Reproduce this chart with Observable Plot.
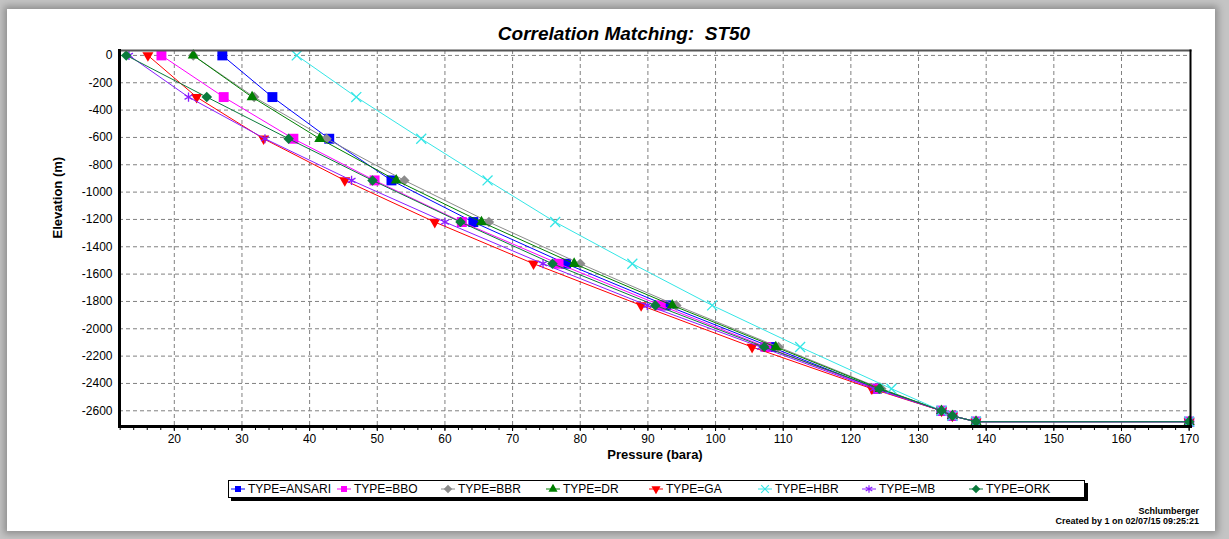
<!DOCTYPE html>
<html>
<head>
<meta charset="utf-8">
<script src="https://cdn.jsdelivr.net/npm/d3@7"></script>
<script src="https://cdn.jsdelivr.net/npm/@observablehq/plot@0.6"></script>
<style>
html,body{margin:0;padding:0;}
body{position:relative;width:1229px;height:539px;overflow:hidden;background:#c4c4c4;font-family:"Liberation Sans",Arial,sans-serif;}
#panel{position:absolute;left:7px;top:9px;width:1208px;height:522px;background:#fff;box-shadow:0 0 7px 3px rgba(0,0,0,0.28);}
#title{position:absolute;left:424px;width:400px;top:23px;line-height:22px;text-align:center;font-size:19px;font-weight:bold;font-style:italic;color:#000;white-space:pre;}
#chart{position:absolute;left:0;top:40px;}
#legend{position:absolute;left:228px;top:480px;width:855px;height:16px;border:1px solid #000;background:#fff;box-shadow:3px 3px 0 #000;}
.li{position:absolute;top:0;height:16px;line-height:16px;font-size:12px;color:#000;white-space:nowrap;}
.li svg{position:absolute;top:3px;}
#cap{position:absolute;right:30px;top:506px;text-align:right;font-size:9px;font-weight:bold;line-height:10px;color:#000;}
</style>
</head>
<body>
<div id="panel"></div>
<div id="title">Correlation Matching:  ST50</div>
<div id="chart"></div>
<div id="legend"></div>
<div id="cap">Schlumberger<br>Created by 1 on 02/07/15 09:25:21</div>
<script>
// ---- data ----
const seriesNames = ["ANSARI", "BBO", "BBR", "DR", "GA", "HBR", "MB", "ORK"];
const elevations = [0, -304.8, -609.6, -914.4, -1219.2, -1524, -1828.8, -2133.6, -2438.4, -2600, -2637, -2680, -2680];
const ansari = [27.1, 34.5, 42.9, 52.1, 64.2, 77.9, 92.7, 108.2, 123.8, 133.4, 135.0, 138.5, 170];
const bbo    = [18.1, 27.3, 37.6, 49.6, 62.5, 76.8, 91.9, 107.5, 123.6, 133.4, 135.0, 138.5, 170];
const bbr    = [22.8, 31.8, 42.5, 54.0, 66.5, 80.0, 94.2, 109.3, 124.5, 133.4, 135.0, 138.5, 170];
const dr     = [22.8, 31.5, 41.5, 52.8, 65.4, 79.1, 93.6, 108.9, 124.3, 133.4, 135.0, 138.5, 170];
const ga     = [16.1, 23.3, 33.2, 45.2, 58.5, 73.1, 89.0, 105.4, 123.1, 133.4, 135.0, 138.5, 170];
const hbr    = [38.1, 46.9, 56.5, 66.3, 76.3, 87.7, 99.5, 112.5, 126.0, 133.4, 135.0, 138.5, 170];
const mb     = [13.3, 22.1, 33.4, 46.2, 60.0, 74.5, 89.9, 106.7, 123.4, 133.4, 135.0, 138.5, 170];
const ork    = [12.9, 24.8, 36.9, 49.3, 62.3, 75.9, 91.1, 107.2, 124.2, 133.4, 135.0, 138.5, 170];
const seriesValues = [ansari, bbo, bbr, dr, ga, hbr, mb, ork];
const xTicks = [20, 30, 40, 50, 60, 70, 80, 90, 100, 110, 120, 130, 140, 150, 160, 170];
const yTicks = [0, -200, -400, -600, -800, -1000, -1200, -1400, -1600, -1800, -2000, -2200, -2400, -2600];

// ---- styles ----
const colors = ["#0000ff", "#ff00ff", "#8c8c8c", "#008000", "#ff0000", "#33e6e6", "#8a1cff", "#0a7a3c"];
const invTri = {draw(ctx, size) {
  const y = -Math.sqrt(size / (Math.sqrt(3) * 3));
  ctx.moveTo(0, -y * 2); ctx.lineTo(-Math.sqrt(3) * y, y); ctx.lineTo(Math.sqrt(3) * y, y); ctx.closePath();
}};
const diamondSym = {draw(ctx, size) {
  const d = Math.sqrt(size / 2);
  ctx.moveTo(0, -d); ctx.lineTo(d, 0); ctx.lineTo(0, d); ctx.lineTo(-d, 0); ctx.closePath();
}};
const symbols = [d3.symbolSquare, d3.symbolSquare, diamondSym, d3.symbolTriangle, invTri, d3.symbolTimes, d3.symbolAsterisk, diamondSym];
const filled = [true, true, true, true, true, false, false, true];
const radii = [5.6, 5.6, 4.2, 4.1, 4.1, 4.6, 4.3, 4.2];

const seriesMarks = [];
seriesNames.forEach((name, i) => {
  const rows = elevations.map((e, j) => ({e, p: seriesValues[i][j]}));
  seriesMarks.push(Plot.line(rows, {x: "p", y: "e", stroke: colors[i], strokeWidth: 1}));
  seriesMarks.push(Plot.dot(rows, {
    x: "p", y: "e", symbol: symbols[i], r: radii[i],
    fill: filled[i] ? colors[i] : "none",
    stroke: filled[i] ? "none" : colors[i],
    strokeWidth: 1.3
  }));
});

const minor = d3.range(12, 171, 2);

const chart = Plot.plot({
  width: 1229,
  height: 440,
  marginTop: 10,
  marginBottom: 54,
  marginLeft: 119,
  marginRight: 39,
  x: {domain: [11.9, 170.2]},
  y: {domain: [-2715, 36]},
  style: {fontFamily: "'Liberation Sans', Arial, sans-serif", fontSize: "12px", background: "transparent", color: "#000"},
  marks: [
    Plot.gridX(xTicks.filter(d => d < 170), {stroke: "#808080", strokeOpacity: 1, strokeDasharray: "4,3", strokeWidth: 1}),
    Plot.gridY(yTicks, {stroke: "#808080", strokeOpacity: 1, strokeDasharray: "4,3", strokeWidth: 1}),
    Plot.axisX(minor, {tickSize: 4, tickFormat: () => "", label: null}),
    Plot.axisX(xTicks, {tickSize: 5, tickPadding: 3, tickFormat: d => String(d), label: null, fontSize: 12}),
    Plot.axisY(yTicks, {tickSize: 0, tickPadding: 7, tickFormat: d => String(d), label: null, fontSize: 12}),
    Plot.text(["Pressure (bara)"], {frameAnchor: "bottom", dy: 32, fontWeight: "bold", fontSize: 13}),
    Plot.text(["Elevation (m)"], {frameAnchor: "left", dx: -62, rotate: -90, fontWeight: "bold", fontSize: 13}),
    ...seriesMarks,
    Plot.frame({anchor: "top", stroke: "#555", strokeWidth: 2}),
    Plot.frame({anchor: "right", stroke: "#000", strokeWidth: 2}),
    Plot.frame({anchor: "left", stroke: "#000", strokeWidth: 3}),
    Plot.frame({anchor: "bottom", stroke: "#000", strokeWidth: 3})
  ]
});
document.getElementById("chart").appendChild(chart);

// ---- legend ----
const legendX = [238, 344, 448, 553, 656, 765, 869, 976];
const legend = document.getElementById("legend");
seriesNames.forEach((name, i) => {
  const item = document.createElement("div");
  item.className = "li";
  item.style.left = (legendX[i] - 229 - 7) + "px";
  const sym = d3.symbol().type(symbols[i]).size(filled[i] ? 36 : 40)();
  const fill = filled[i] ? colors[i] : "none";
  const stroke = filled[i] ? "none" : colors[i];
  item.innerHTML = `<svg width="14" height="10" viewBox="-7 -5 14 10"><line x1="-7" x2="7" y1="0" y2="0" stroke="${colors[i]}" stroke-width="1"/><path d="${sym}" fill="${fill}" stroke="${stroke}" stroke-width="1.2"/></svg><span style="margin-left:17px">TYPE=${name}</span>`;
  legend.appendChild(item);
});
</script>
</body>
</html>
